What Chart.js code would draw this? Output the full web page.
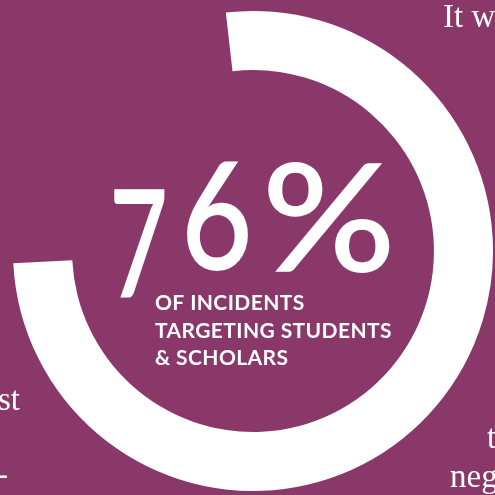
<!DOCTYPE html>
<html>
<head>
<meta charset="utf-8">
<script src="https://cdn.jsdelivr.net/npm/chart.js@4"></script>
<style>
  html, body { margin: 0; padding: 0; background: #8a376a; }
  #wrap { width: 495px; height: 495px; position: relative; overflow: hidden; }
  canvas { display: block; }
</style>
</head>
<body>
<div id="wrap"><canvas id="c" width="495" height="495"></canvas></div>
<script>
// ---- data ----
const categories = ['Incidents targeting students & scholars', 'Other incidents'];
const values = [76, 24];
const headline = '76%';
const subtitleLines = ['OF INCIDENTS', 'TARGETING STUDENTS', '& SCHOLARS'];
// fragments of surrounding page text visible at the edges
const fragments = [
  { text: 'It w', align: 'left' },
  { text: 'st', align: 'right' },
  { text: '-', align: 'right' },
  { text: 't', align: 'left' },
  { text: 'neg', align: 'left' }
];

const textPlugin = {
  id: 'centerText',
  afterDraw(chart) {
    const ctx = chart.ctx;
    const arc = chart.getDatasetMeta(0).data[0];
    const cx = arc.x, cy = arc.y;
    ctx.save();
    ctx.fillStyle = '#ffffff';
    ctx.textBaseline = 'alphabetic';
    ctx.textAlign = 'left';

    // headline glyphs, placed individually (old-style figure: 7 drops below baseline)
    const glyphs = headline.split('');
    const place = [
      { dx: -139, dy: 47, w: 51 },   // 7
      { dx: -66,  dy: 19, w: 61 },   // 6
      { dx: 15,   dy: 21, w: 122 }   // %
    ];
    ctx.font = '600 151px Lato';
    glyphs.forEach((g, i) => {
      const p = place[i];
      const m = ctx.measureText(g);
      const gw = m.actualBoundingBoxLeft + m.actualBoundingBoxRight;
      const sx = p.w / gw;
      ctx.save();
      ctx.translate(cx + p.dx + m.actualBoundingBoxLeft * sx, cy + p.dy);
      ctx.scale(sx, 1);
      ctx.fillText(g, 0, 0);
      ctx.restore();
    });

    // subtitle
    ctx.font = '700 21px Lato';
    ctx.letterSpacing = '0.4px';
    subtitleLines.forEach((line, i) => {
      ctx.fillText(line, cx - 98, cy + 59 + i * 27.5);
    });
    ctx.letterSpacing = '0px';

    // page text fragments
    ctx.font = '33px "Liberation Serif"';
    const fpos = [[443, 27], [20, 410], [8, 485], [487, 448], [450, 487]];
    fragments.forEach((f, i) => {
      ctx.textAlign = f.align;
      ctx.fillText(f.text, fpos[i][0], fpos[i][1]);
    });
    ctx.restore();
  }
};

new Chart(document.getElementById('c'), {
  type: 'doughnut',
  data: {
    labels: categories,
    datasets: [{
      data: values,
      backgroundColor: ['#ffffff', 'rgba(0,0,0,0)'],
      borderWidth: 0,
      hoverOffset: 0,
      offset: 0
    }]
  },
  options: {
    responsive: false,
    animation: false,
    events: [],
    rotation: -6.5,
    cutout: '75.4%',
    layout: { padding: { left: 13, top: 11, right: 2, bottom: 4 } },
    plugins: { legend: { display: false }, tooltip: { enabled: false }, title: { display: false } }
  },
  plugins: [textPlugin]
});
</script>
</body>
</html>
